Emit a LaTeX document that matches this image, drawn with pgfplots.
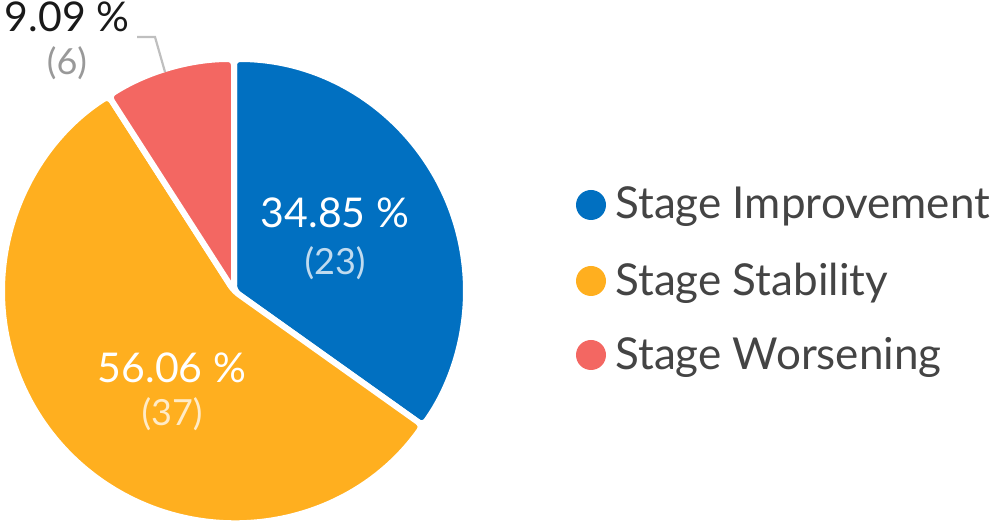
\documentclass[border=0pt]{standalone}
\usepackage{pgfplots}
\pgfplotsset{compat=1.18}
\usepackage{fontspec}
\setmainfont{Lato}
\definecolor{cImp}{HTML}{0170C1}
\definecolor{cSta}{HTML}{FFAF1F}
\definecolor{cWor}{HTML}{F36762}
\definecolor{txt}{HTML}{444444}
\definecolor{lbl}{HTML}{999999}

% counts per category
\def\vImp{23}
\def\vSta{37}
\def\vWor{6}

\begin{document}
\begin{tikzpicture}
\pgfmathsetmacro{\tot}{\vImp+\vSta+\vWor}
\pgfmathsetmacro{\aA}{90}
\pgfmathsetmacro{\aB}{90-360*\vImp/\tot}
\pgfmathsetmacro{\aC}{\aB-360*\vSta/\tot}
\pgfmathsetmacro{\aD}{\aC-360*\vWor/\tot}
\begin{axis}[
  width=496.5pt, height=262.5pt, scale only axis,
  xmin=0, xmax=993, ymin=0, ymax=525,
  hide axis, clip=false,
]
  %% slices, radius 232 px = 116pt
  \filldraw[fill=cImp, draw=white, line width=3pt, rounded corners=3pt]
    (axis cs:234,234) -- ++(\aA:116pt) arc[start angle=\aA, end angle=\aB, radius=116pt] -- cycle;
  \filldraw[fill=cSta, draw=white, line width=3pt, rounded corners=3pt]
    (axis cs:234,234) -- ++(\aB:116pt) arc[start angle=\aB, end angle=\aC, radius=116pt] -- cycle;
  \filldraw[fill=cWor, draw=white, line width=3pt, rounded corners=3pt]
    (axis cs:234,234) -- ++(\aC:116pt) arc[start angle=\aC, end angle=\aD, radius=116pt] -- cycle;
  %% labels
  \begin{scope}[every node/.style={inner sep=0pt}]
  \node[text=white, font=\fontsize{20.5}{24}\selectfont] at (axis cs:335,312) {34.85 \%};
  \node[text=white!75!cImp, font=\fontsize{18}{20}\selectfont] at (axis cs:335,262) {(23)};
  \node[text=white, font=\fontsize{20.5}{24}\selectfont] at (axis cs:172,157) {56.06 \%};
  \node[text=white!75!cSta, font=\fontsize{18}{20}\selectfont] at (axis cs:172,111) {(37)};
  \node[text=black!90, font=\fontsize{20.5}{24}\selectfont] at (axis cs:67,508) {9.09 \%};
  \node[text=lbl, font=\fontsize{18}{20}\selectfont] at (axis cs:67,462) {(6)};
  \end{scope}
  \draw[black!25, line width=1.1pt] (axis cs:137,488) -- (axis cs:155,488) -- (axis cs:165,453);
  %% legend
  \fill[cImp] (axis cs:591,320) circle[radius=7.5pt];
  \fill[cSta] (axis cs:591,244) circle[radius=7.5pt];
  \fill[cWor] (axis cs:591,170) circle[radius=7.5pt];
  \node[anchor=west, text=txt, font=\fontsize{22}{24}\selectfont, inner sep=0pt] at (axis cs:615,318) {Stage Improvement};
  \node[anchor=west, text=txt, font=\fontsize{22}{24}\selectfont, inner sep=0pt] at (axis cs:615,242) {Stage Stability};
  \node[anchor=west, text=txt, font=\fontsize{22}{24}\selectfont, inner sep=0pt] at (axis cs:615,168) {Stage Worsening};
\end{axis}
\pgfresetboundingbox
\useasboundingbox (current axis.south west) rectangle (current axis.north east);
\end{tikzpicture}
\end{document}
